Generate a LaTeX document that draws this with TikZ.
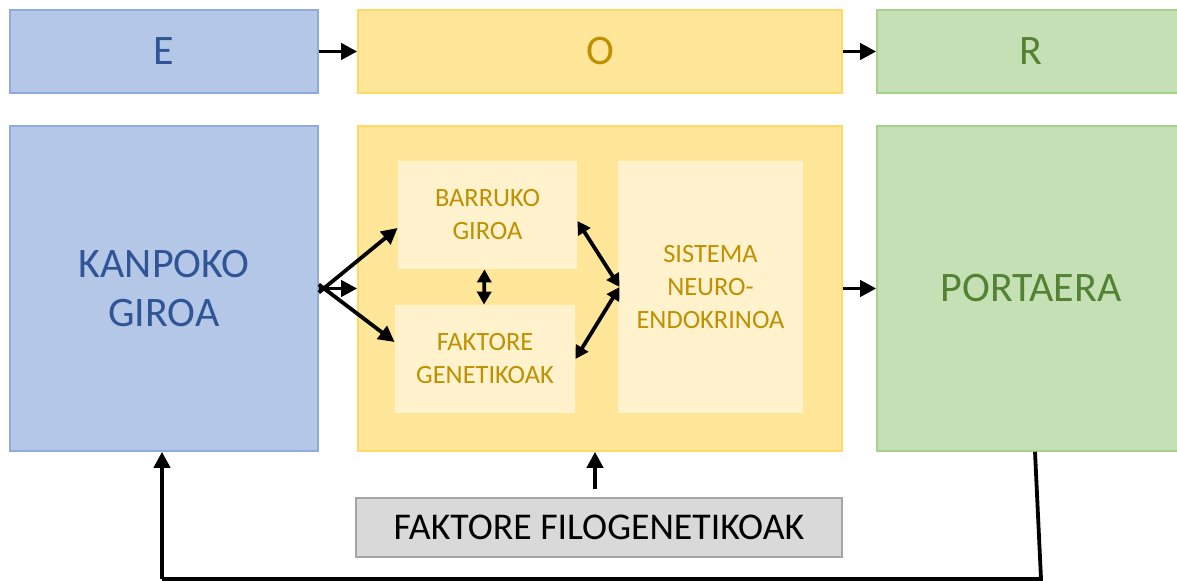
\documentclass[tikz,border=0pt]{standalone}
\usepackage{fontspec}
\setmainfont{Carlito}
\usepackage{xcolor}
\usetikzlibrary{arrows.meta,calc}
\definecolor{eoblue}{HTML}{B4C7E7}
\definecolor{eoblueline}{HTML}{8FAADC}
\definecolor{eobluetext}{HTML}{2F5597}
\definecolor{eogold}{HTML}{FFE699}
\definecolor{eogoldline}{HTML}{FFD966}
\definecolor{eogoldtext}{HTML}{BF9000}
\definecolor{eolight}{HTML}{FFF2CC}
\definecolor{eogreen}{HTML}{C5E0B4}
\definecolor{eogreenline}{HTML}{A9D18E}
\definecolor{eogreentext}{HTML}{548235}
\definecolor{eogray}{HTML}{D9D9D9}
\definecolor{eograyline}{HTML}{A5A5A5}
\tikzset{
eobox/.style={rectangle,draw,line width=0.8pt,align=center,inner sep=2pt,font=\fontsize{21}{24.5}\selectfont},
eostim/.style={eobox,fill=eoblue,draw=eoblueline,text=eobluetext},
eoorg/.style={eobox,fill=eogold,draw=eogoldline,text=eogoldtext},
eoresp/.style={eobox,fill=eogreen,draw=eogreenline,text=eogreentext},
eoinner/.style={rectangle,fill=eolight,align=center,text=eogoldtext,font=\fontsize{13.2}{16.5}\selectfont},
eofilo/.style={eobox,fill=eogray,draw=eograyline,text=black,font=\fontsize{18.9}{22}\selectfont},
eoarr/.style={-{Triangle[length=8pt,width=8pt]},line width=1.9pt},
eodbl/.style={{Triangle[length=6.5pt,width=7pt]}-{Triangle[length=6.5pt,width=7pt]},line width=1.9pt},
eoline/.style={line width=1.9pt}
}
\begin{document}
\begin{tikzpicture}[
x=0.5pt,
y=-0.5pt
]
\useasboundingbox (0,0) rectangle (1177,581);
% top row
\node[eostim,minimum width=154pt,minimum height=41.5pt] (e) at (164,51.5) {E};
\node[eoorg,minimum width=242pt,minimum height=41.5pt] (o) at (600,51.5) {O};
\node[eoresp,minimum width=154pt,minimum height=41.5pt] (r) at (1031,51.5) {R};
% main row
\node[eostim,minimum width=154pt,minimum height=162.5pt] (kanpoko) at (164,288.5) {KANPOKO\\GIROA};
\node[eoorg,minimum width=242pt,minimum height=162.5pt] (organismo) at (600,288.5) {};
\node[eoresp,minimum width=154pt,minimum height=162.5pt] (portaera) at (1031,288.5) {PORTAERA};
\node[eoinner,minimum width=89.5pt,minimum height=54pt] (barruko) at (487.5,215) {BARRUKO\\GIROA};
\node[eoinner,minimum width=90pt,minimum height=54pt] (genetiko) at (485,359) {FAKTORE\\GENETIKOAK};
\node[eoinner,minimum width=92.5pt,minimum height=126pt] (sistema) at (710.5,287) {SISTEMA\\NEURO-\\ENDOKRINOA};
\node[eofilo,minimum width=243pt,minimum height=29.5pt] (filo) at (599,527.5) {FAKTORE FILOGENETIKOAK};
\coordinate (fbr) at (1041,579);
\coordinate (fbl) at (162,579);
% connectors
\draw[eoarr] (e)--(o);
\draw[eoarr] (o)--(r);
\draw[eoarr] ([yshift=-2pt]kanpoko.east)--([yshift=-6.5pt]barruko.west);
\draw[eoarr] (kanpoko.east)--(organismo.west);
\draw[eoarr] ([yshift=2pt]kanpoko.east)--([yshift=8.5pt]genetiko.west);
\draw[eodbl] ([xshift=-1.5pt]barruko.south)--([xshift=-0.5pt]genetiko.north);
\draw[eodbl] ([yshift=-3pt]barruko.east)--([xshift=1pt]sistema.west);
\draw[eodbl] (genetiko.east)--([xshift=1pt]sistema.west);
\draw[eoarr] (organismo)--(portaera);
\draw[eoarr,shorten <=4pt] ([xshift=-2pt]filo.north)--([xshift=-2.5pt]organismo.south);
\draw[eoline] ([xshift=2pt]portaera.south)--(fbr)--(fbl);
\draw[eoarr] (fbl)--(fbl|-kanpoko.south);
\end{tikzpicture}
\end{document}
